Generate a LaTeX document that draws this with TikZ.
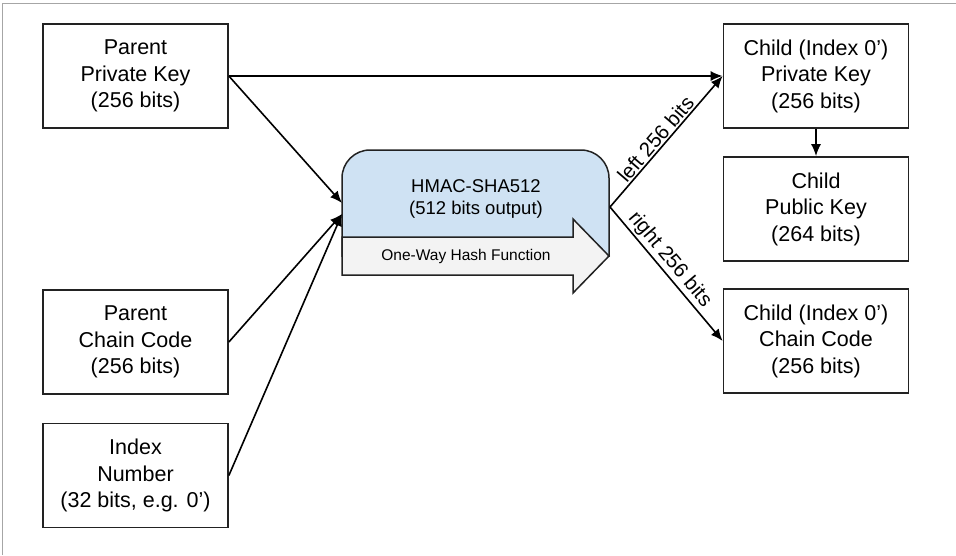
\documentclass[tikz,border=0pt]{standalone}
\usepackage{fontspec}
\setmainfont{Liberation Sans}
\usetikzlibrary{arrows.meta}
\definecolor{hmacblue}{HTML}{CFE2F3}
\definecolor{hashgrey}{HTML}{F3F3F3}
\definecolor{edgegrey}{HTML}{222222}
\begin{document}
\begin{tikzpicture}[x=1pt,y=-1pt,
  keybox/.style={draw=edgegrey,line width=1.7pt,minimum width=185pt,minimum height=104pt,
    align=center,font=\fontsize{21.5}{26.5}\selectfont,inner sep=0pt},
  conn/.style={line width=1.6pt,-{Latex[length=12pt,width=10pt]}},
  lbl/.style={font=\fontsize{20.5}{22}\selectfont,inner sep=1.5pt}]
\useasboundingbox (0,0) rectangle (956,555);
\draw[gray!70,line width=1pt] (2,555) -- (2,3) -- (956,3);
% left boxes
\node[keybox] (ppk) at (135.5,76) {Parent\\Private Key\\(256 bits)};
\node[keybox] (pcc) at (135.5,342) {Parent\\Chain Code\\(256 bits)};
\node[keybox] (idx) at (135.5,475.5) {Index\\Number\\(32 bits, e.g. 0’)};
% right boxes
\node[keybox] (cpk) at (816,76) {Child (Index 0’)\\Private Key\\(256 bits)};
\node[keybox] (cpub) at (816,209) {Child\\Public Key\\(264 bits)};
\node[keybox] (ccc) at (816,341) {Child (Index 0’)\\Chain Code\\(256 bits)};
% HMAC block
\path[fill=hmacblue,draw=edgegrey,line width=1.5pt]
  (342,256) -- (342,178) arc[start angle=180,end angle=270,radius=28]
  -- (581,150) arc[start angle=270,end angle=360,radius=28] -- (609,256) -- cycle;
\node[font=\fontsize{18.5}{22}\selectfont,align=center] (hmac) at (476,199) {HMAC-SHA512\\(512 bits output)};
\path[fill=hashgrey,draw=edgegrey,line width=1.5pt]
  (342,237) -- (573,237) -- (573,219) -- (609,256) -- (573,293) -- (573,275) -- (342,275) -- cycle;
\node[font=\fontsize{15.5}{18}\selectfont] (owhf) at (466,256.5) {One-Way Hash Function};
\coordinate (inA) at (342,203);
\coordinate (inB) at (342,214);
\coordinate (out) at (610,207);
% connectors
\draw[conn] (ppk.east) -- (cpk.west);
\draw[conn] (ppk.east) -- (inA);
\draw[conn] (pcc.east) -- (inB);
\draw[conn] (idx.east) -- (inB);
\draw[conn] (cpk.south) -- (cpub.north);
\draw[conn] (out) -- node[lbl,sloped,above,pos=0.47] {left 256 bits} (cpk.west);
\draw[conn] (out) -- node[lbl,sloped,above,pos=0.45] {right 256 bits} (ccc.west);
\end{tikzpicture}
\end{document}
